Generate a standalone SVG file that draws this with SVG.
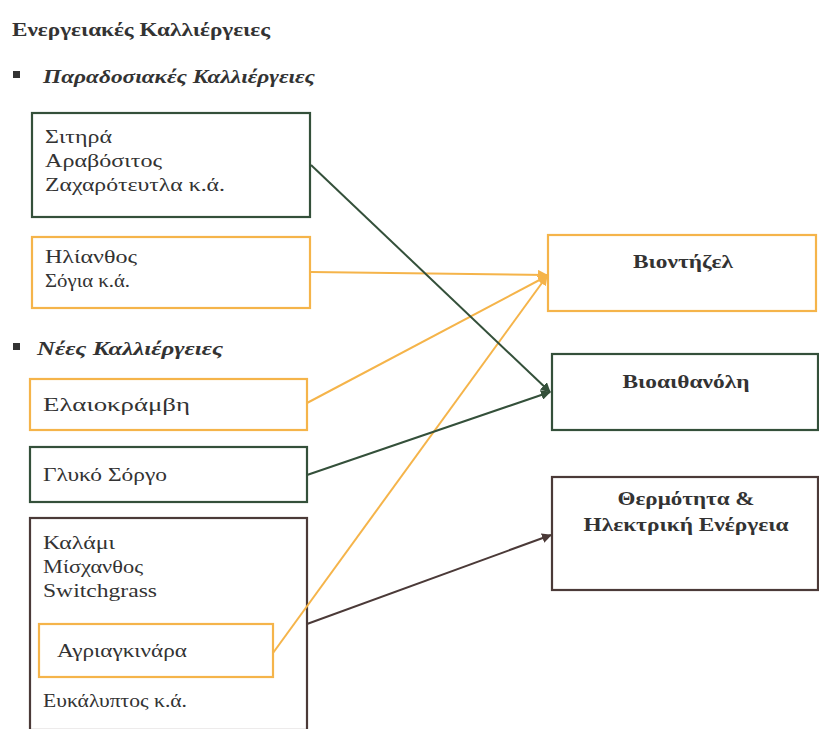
<svg xmlns="http://www.w3.org/2000/svg" width="819" height="729" viewBox="0 0 819 729">
<defs>
<style>
text{font-family:"Liberation Serif","Times New Roman",serif;fill:#333;}
.t{font-size:19px;}
.h{font-size:19px;font-weight:bold;}
.hi{font-size:19px;font-weight:bold;font-style:italic;}
.c{font-size:18px;font-weight:bold;text-anchor:middle;}
.box{fill:#fff;stroke-width:2.2;}
.g{stroke:#34503a;}
.o{stroke:#f5b44a;}
.b{stroke:#4b3a38;}
.ln{fill:none;stroke-width:2;}
</style>
<marker id="ag" viewBox="0 0 10 10" refX="9" refY="5" markerWidth="5" markerHeight="5" orient="auto" markerUnits="strokeWidth"><path d="M0,0 L10,5 L0,10 z" fill="#34503a"/></marker>
<marker id="ao" viewBox="0 0 10 10" refX="9" refY="5" markerWidth="5" markerHeight="5" orient="auto" markerUnits="strokeWidth"><path d="M0,0 L10,5 L0,10 z" fill="#f5b44a"/></marker>
<marker id="ab" viewBox="0 0 10 10" refX="9" refY="5" markerWidth="5" markerHeight="5" orient="auto" markerUnits="strokeWidth"><path d="M0,0 L10,5 L0,10 z" fill="#4b3a38"/></marker>
</defs>
<rect width="819" height="729" fill="#fff"/>
<g id="headings">
<text class="h" x="12" y="36" textLength="258" lengthAdjust="spacingAndGlyphs">Ενεργειακές Καλλιέργειες</text>
<rect x="13" y="71" width="7" height="7" fill="#333"/>
<text class="hi" x="43" y="83" textLength="272" lengthAdjust="spacingAndGlyphs">Παραδοσιακές Καλλιέργειες</text>
<rect x="13" y="343" width="7" height="7" fill="#333"/>
<text class="hi" x="37" y="355" textLength="186" lengthAdjust="spacingAndGlyphs">Νέες Καλλιέργειες</text>
</g>
<g id="n-sitira">
<rect class="box g" x="32" y="113" width="278" height="104"/>
<text class="t" x="45" y="143" textLength="67" lengthAdjust="spacingAndGlyphs">Σιτηρά</text>
<text class="t" x="45" y="167" textLength="117" lengthAdjust="spacingAndGlyphs">Αραβόσιτος</text>
<text class="t" x="45" y="191" textLength="180" lengthAdjust="spacingAndGlyphs">Ζαχαρότευτλα κ.ά.</text>
</g>
<g id="n-ilianthos">
<rect class="box o" x="32" y="237" width="278" height="71"/>
<text class="t" x="45" y="263" textLength="92" lengthAdjust="spacingAndGlyphs">Ηλίανθος</text>
<text class="t" x="45" y="287" textLength="85" lengthAdjust="spacingAndGlyphs">Σόγια κ.ά.</text>
</g>
<g id="n-elaiokramvi">
<rect class="box o" x="30" y="379" width="277" height="51"/>
<text class="t" x="43" y="411" textLength="147" lengthAdjust="spacingAndGlyphs">Ελαιοκράμβη</text>
</g>
<g id="n-glyko">
<rect class="box g" x="30" y="447" width="277" height="55"/>
<text class="t" x="43" y="481" textLength="124" lengthAdjust="spacingAndGlyphs">Γλυκό Σόργο</text>
</g>
<g id="n-kalami">
<rect class="box b" x="30" y="518" width="277" height="212"/>
<text class="t" x="43" y="549" textLength="72" lengthAdjust="spacingAndGlyphs">Καλάμι</text>
<text class="t" x="43" y="573" textLength="100" lengthAdjust="spacingAndGlyphs">Μίσχανθος</text>
<text class="t" x="43" y="597" textLength="114" lengthAdjust="spacingAndGlyphs">Switchgrass</text>
<text class="t" x="43" y="707" textLength="144" lengthAdjust="spacingAndGlyphs">Ευκάλυπτος κ.ά.</text>
</g>
<g id="n-agriagkinara">
<rect class="box o" x="39" y="624" width="234" height="53"/>
<text class="t" x="57" y="657" textLength="130" lengthAdjust="spacingAndGlyphs">Αγριαγκινάρα</text>
</g>
<g id="n-biodiesel">
<rect class="box o" x="548" y="235" width="268" height="76"/>
<text class="c" x="683" y="268" textLength="100" lengthAdjust="spacingAndGlyphs">Βιοντήζελ</text>
</g>
<g id="n-bioethanol">
<rect class="box g" x="552" y="354" width="266" height="76"/>
<text class="c" x="686" y="388" textLength="127" lengthAdjust="spacingAndGlyphs">Βιοαιθανόλη</text>
</g>
<g id="n-heat">
<rect class="box b" x="552" y="477" width="266" height="113"/>
<text class="c" x="686" y="505" textLength="137" lengthAdjust="spacingAndGlyphs">Θερμότητα &amp;</text>
<text class="c" x="686" y="531" textLength="205" lengthAdjust="spacingAndGlyphs">Ηλεκτρική Ενέργεια</text>
</g>
<g id="connectors">
<line class="ln o" x1="311" y1="272" x2="547" y2="275" marker-end="url(#ao)"/>
<line class="ln o" x1="307" y1="403" x2="547" y2="276" marker-end="url(#ao)"/>
<line class="ln o" x1="273" y1="653" x2="547" y2="276" marker-end="url(#ao)"/>
<line class="ln g" x1="311" y1="165" x2="550" y2="392" marker-end="url(#ag)"/>
<line class="ln g" x1="307" y1="475" x2="550" y2="392" marker-end="url(#ag)"/>
<line class="ln b" x1="307" y1="624" x2="551" y2="535" marker-end="url(#ab)"/>
</g>
</svg>
